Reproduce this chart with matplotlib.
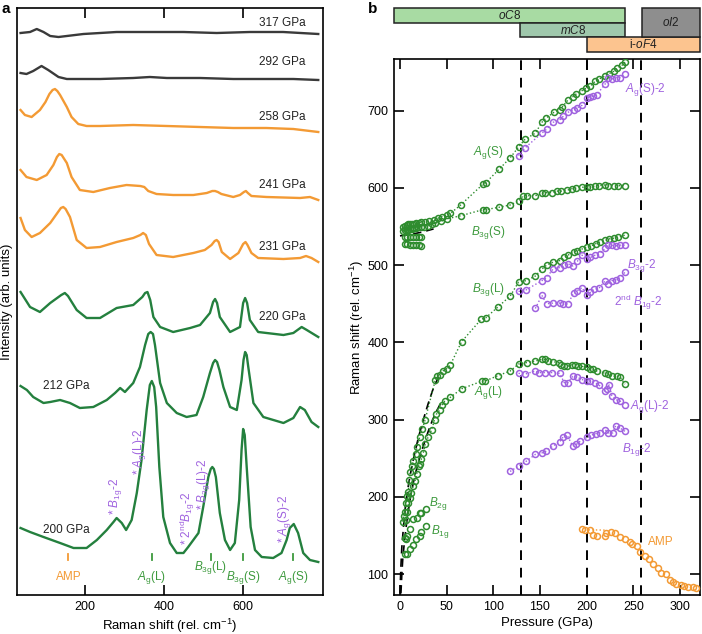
import matplotlib
matplotlib.use("Agg")
import matplotlib.pyplot as plt

plt.rcParams['font.family'] = ['Liberation Sans', 'DejaVu Sans']
plt.rcParams['mathtext.fontset'] = 'custom'
plt.rcParams['mathtext.rm'] = 'Liberation Sans'
plt.rcParams['mathtext.it'] = 'Liberation Sans:italic'
plt.rcParams['mathtext.bf'] = 'Liberation Sans:bold'
plt.rcParams['axes.linewidth'] = 1.2

# Farby
GRAY = '#3a3a3a'
ORANGE = '#f39a34'
GREEN = '#24803e'
GREEN_M = '#2e8c2e'
GREEN_T = '#3d9a3d'
PURPLE = '#9f62df'

# ---------------- panel a: Raman spektra (hodnoty uz posunute nad sebou) ----------------
x_317 = [37, 61, 78, 95, 112, 133, 196, 280, 364, 449, 533, 617, 701, 790]
y_317 = [562, 563, 566, 563, 559, 558, 561, 563, 563, 563, 562, 563, 563, 561]

x_292 = [37, 52, 69, 90, 107, 133, 154, 238, 322, 364, 407, 491, 575, 659, 727, 790]
y_292 = [522, 521, 524, 529, 525, 518, 516, 516, 517, 518, 517, 517, 516, 516, 516, 515]

x_258 = [37, 48, 65, 86, 100, 110, 118, 124, 130, 137, 154, 166, 183, 204, 238, 322, 407, 491,
         575, 659, 727, 790]
y_258 = [485, 480, 478, 485, 493, 501, 505, 506, 504, 500, 488, 478, 471, 469, 469, 470, 469, 468,
         467, 467, 466, 463]

x_241 = [37, 52, 78, 103, 120, 129, 135, 141, 154, 166, 187, 221, 263, 305, 340, 350, 360, 381, 423,
         474, 508, 522, 529, 536, 545, 575, 592, 602, 607, 612, 621, 659, 744, 769, 790]
y_241 = [425, 418, 415, 420, 430, 438, 441, 440, 432, 418, 405, 403, 407, 410, 409, 408, 404, 401,
         400, 400, 402, 404, 404, 403, 401, 398, 400, 403, 404, 402, 399, 398, 397, 398, 395]

x_231 = [37, 48, 65, 86, 112, 130, 139, 145, 151, 162, 179, 204, 238, 280, 322, 340, 347, 354, 362,
         381, 423, 474, 503, 520, 528, 533, 538, 546, 567, 588, 600, 606, 611, 621, 638, 702, 744,
         759, 773, 790]
y_231 = [377, 365, 358, 362, 372, 382, 387, 388, 386, 378, 355, 347, 348, 353, 357, 360, 362, 360,
         351, 340, 338, 342, 345, 350, 354, 355, 353, 343, 336, 342, 351, 353, 350, 342, 337, 336,
         337, 339, 337, 333]

x_220 = [37, 61, 86, 112, 140, 149, 157, 179, 204, 238, 280, 322, 345, 352, 358, 365, 373, 390, 423,
         466, 491, 516, 524, 529, 534, 541, 567, 592, 600, 605, 610, 617, 638, 702, 727, 748, 761, 790]
y_220 = [303, 288, 283, 292, 300, 302, 299, 285, 277, 277, 287, 290, 298, 302, 303, 295, 278, 268,
         263, 267, 270, 282, 293, 296, 292, 278, 263, 268, 292, 297, 292, 275, 263, 260, 262, 268,
         265, 258]

x_212 = [37, 53, 69, 95, 112, 137, 162, 187, 221, 255, 276, 289, 301, 322, 339, 352, 360, 366, 372,
         377, 390, 407, 432, 457, 482, 499, 516, 524, 529, 534, 540, 550, 567, 584, 596, 601, 605,
         609, 613, 626, 651, 702, 727, 744, 756, 773, 790]
y_212 = [209, 205, 198, 192, 193, 195, 192, 187, 188, 195, 202, 207, 203, 212, 228, 250, 261, 263,
         261, 250, 212, 192, 182, 178, 180, 198, 222, 232, 235, 233, 225, 208, 188, 185, 215, 235,
         243, 240, 228, 192, 178, 172, 177, 188, 185, 173, 168]

x_200 = [37, 61, 95, 137, 171, 204, 230, 255, 272, 280, 293, 304, 318, 331, 343, 356, 364, 369, 375,
         380, 388, 398, 415, 432, 449, 461, 474, 487, 499, 512, 518, 522, 526, 531, 541, 554, 567,
         579, 590, 596, 600, 604, 609, 619, 630, 647, 676, 697, 710, 718, 728, 739, 752, 769, 790]
y_200 = [67, 63, 58, 52, 47, 47, 55, 65, 73, 77, 72, 65, 75, 102, 135, 185, 210, 214, 208,
         188, 128, 78, 52, 42, 42, 48, 55, 62, 88, 118, 126, 128, 126, 118, 82, 55, 45,
         52, 95, 145, 166, 160, 128, 68, 45, 38, 37, 42, 55, 67, 71, 62, 42, 35, 33]

pressures_a = ['317 GPa', '292 GPa', '258 GPa', '241 GPa', '231 GPa', '220 GPa', '212 GPa', '200 GPa']
label_x_a = [700, 700, 700, 700, 700, 700, 153, 153]
label_y_a = [572, 533, 478, 410, 348, 278, 209, 65]

# oznacenie modov pod spektrom 200 GPa
mode_pos = [158, 369, 518, 599, 727]
mode_names = ['AMP', r'$A_{\rm g}$(L)', r'$B_{\rm 3g}$(L)', r'$B_{\rm 3g}$(S)', r'$A_{\rm g}$(S)']
mode_label_y = [18, 18, 28, 18, 18]

# fialove hviezdicky (druha faza)
star_x = [277, 339, 459, 499, 704]
star_y = [80, 120, 50, 85, 52]
star_names = [r'* $B_{\rm 1g}$-2', r'* $A_{\rm g}$(L)-2', r'* $2^{\rm nd}B_{\rm 1g}$-2',
              r'* $B_{\rm 3g}$(L)-2', r'* $A_{\rm g}$(S)-2']

# ---------------- panel b: frekvencie modov vs tlak ----------------
ag_s_p = [3, 5, 7, 9, 11, 13, 15, 17, 20, 23, 27, 31, 36, 41, 45, 50, 54, 65, 89, 92, 106, 118, 127,
          134, 145, 152, 156, 165, 171, 174, 180, 185, 189, 195, 199, 204, 209, 213, 220, 224, 229,
          232, 238, 241]
ag_s_r = [549, 551, 552, 553, 553, 554, 554, 555, 555, 556, 556, 557, 559, 561, 563, 565, 567, 578,
          605, 607, 624, 639, 653, 663, 671, 685, 690, 698, 701, 705, 714, 718, 722, 726, 729, 732,
          738, 741, 745, 748, 751, 755, 759, 763]

b3g_s_p = [3, 5, 7, 9, 11, 13, 15, 17, 19, 22, 26, 30, 34, 38, 44, 50, 65, 89, 92, 106, 118, 127,
           132, 136, 145, 152, 155, 163, 168, 173, 179, 184, 189, 195, 200, 204, 209, 213, 220, 223,
           229, 234, 241]
b3g_s_r = [544, 545, 546, 546, 547, 547, 548, 548, 549, 549, 550, 551, 553, 555, 557, 560, 564, 572,
           572, 575, 578, 583, 590, 590, 590, 593, 594, 594, 596, 596, 597, 599, 600, 601, 601, 601,
           603, 603, 604, 603, 603, 603, 603]

low_p = [5, 8, 11, 14, 17, 20, 23, 5, 8, 11, 14, 17, 20, 23]
low_r = [536, 536, 536, 537, 536, 536, 536, 527, 527, 526, 526, 526, 526, 525]

b3g_l_p = [3, 4, 5, 6, 7, 9, 10, 11, 13, 14, 17, 18, 21, 24, 27, 38, 40, 43, 46, 50, 54, 66, 87, 92,
           105, 118, 127, 135, 145, 152, 157, 164, 171, 176, 180, 186, 190, 195, 200, 205, 210, 214,
           220, 224, 229, 234, 241]
b3g_l_r = [168, 175, 181, 192, 201, 207, 222, 232, 240, 246, 255, 264, 277, 288, 300, 352, 357, 358,
           363, 366, 371, 401, 430, 432, 446, 460, 478, 480, 486, 495, 500, 504, 506, 510, 513, 517,
           519, 521, 523, 525, 528, 530, 532, 534, 535, 536, 539]

ag_l_p = [6, 8, 9, 11, 12, 14, 16, 18, 20, 21, 23, 25, 27, 30, 34, 37, 39, 43, 45, 48, 54, 66, 88, 91,
          105, 118, 127, 136, 145, 152, 155, 159, 164, 170, 173, 176, 179, 184, 188, 191, 195, 200,
          204, 207, 211, 220, 223, 227, 232, 236, 241]
ag_l_r = [170, 180, 192, 199, 205, 214, 220, 230, 240, 243, 249, 257, 268, 277, 287, 300, 307, 313,
          319, 324, 329, 340, 350, 350, 357, 363, 372, 374, 376, 378, 378, 376, 375, 374, 371, 369,
          369, 371, 371, 370, 369, 368, 366, 365, 363, 360, 359, 357, 356, 355, 346]

b2g_p = [5, 6, 7, 11, 14, 18, 21, 23, 28]
b2g_r = [147, 145, 149, 158, 171, 173, 179, 179, 184]
b1g_p = [5, 8, 11, 14, 17, 21, 23, 28]
b1g_r = [126, 126, 132, 138, 145, 149, 154, 162]

ag_s2_p = [127, 134, 152, 157, 164, 171, 175, 180, 186, 190, 195, 200, 204, 207, 211, 220, 223, 227,
           231, 236, 241]
ag_s2_r = [642, 652, 671, 676, 685, 688, 693, 698, 701, 704, 707, 716, 718, 719, 721, 735, 742, 741,
           743, 743, 748]

b3g2_p = [127, 135, 152, 157, 164, 171, 176, 180, 185, 190, 195, 200, 204, 209, 214, 220, 223, 227,
          231, 236, 241]
b3g2_r = [466, 468, 480, 484, 495, 497, 500, 502, 499, 505, 513, 508, 510, 513, 515, 522, 526, 526,
          525, 526, 526]

b1g2nd_p = [145, 152, 157, 164, 171, 175, 180, 186, 190, 195, 200, 204, 208, 213, 220, 223, 227, 231,
            236, 241]
b1g2nd_r = [444, 461, 450, 451, 451, 450, 450, 464, 467, 471, 461, 465, 469, 470, 480, 476, 480, 481,
            484, 491]

ag_l2_p = [127, 134, 145, 149, 155, 163, 171, 176, 180, 185, 190, 195, 200, 204, 209, 213, 220, 222,
           224, 227, 231, 236, 241]
ag_l2_r = [360, 359, 363, 361, 361, 361, 360, 348, 348, 356, 355, 352, 350, 350, 348, 345, 337, 340,
           345, 331, 326, 324, 319]

b1g2_p = [118, 127, 135, 145, 152, 156, 164, 171, 175, 179, 185, 189, 193, 200, 205, 210, 214, 220,
          223, 228, 231, 236, 241]
b1g2_r = [233, 240, 246, 255, 257, 259, 266, 271, 278, 280, 266, 268, 272, 277, 280, 282, 283, 287,
          283, 283, 292, 289, 285]

amp_p = [195, 198, 204, 207, 211, 220, 221, 226, 230, 236, 241, 246, 249, 254, 257, 263, 267, 271,
         276, 280, 285, 289, 293, 296, 301, 304, 309, 314, 317]
amp_r = [158, 157, 157, 151, 149, 149, 153, 155, 153, 148, 145, 142, 139, 136, 129, 123, 119, 113,
         108, 101, 100, 93, 90, 87, 86, 85, 83, 84, 82]
amp_fit_p = [198, 220]
amp_fit_r = [157.5, 157]

# teoreticke krivky (ciarkovane)
th1_p = [0, 1, 2, 4, 6, 9, 12, 16, 20, 25, 30, 35, 40, 44]
th1_r = [75, 110, 135, 165, 190, 215, 235, 258, 278, 300, 320, 338, 352, 362]
th2_p = [1, 2, 3, 5, 8, 12, 16, 20, 25, 30, 35, 40, 44]
th2_r = [75, 100, 120, 145, 175, 205, 228, 246, 266, 284, 300, 313, 322]
th3_p = [0, 12, 24, 36]
th3_r = [538, 540, 543, 547]

phase_boundaries = [130, 200, 258]

# fazove pasy nad grafom
phase_names = [r'$oC8$', r'$mC8$', r'i-$\mathit{oF4}$', r'$oI2$']
phase_start = [-6.4, 129, 200, 259]
phase_end = [241, 241, 321.4, 321.4]
phase_top = [0, 1, 2, 0]
phase_bottom = [1, 2, 3, 2]
phase_colors = ['#a8dba3', '#9fc8ac', '#fcc48f', '#8e8e8e']

# ============================ kreslenie ============================
fig = plt.figure(figsize=(7.02, 6.34), dpi=100)
W, H = 702.0, 634.0
ax1 = fig.add_axes([17 / W, 39 / H, 306 / W, 587 / H])
ax2 = fig.add_axes([394 / W, 39 / H, 306 / W, 536 / H])
axp = fig.add_axes([394 / W, (H - 52) / H, 306 / W, 44 / H])

# --- panel a ---
spectra = [(x_317, y_317, GRAY), (x_292, y_292, GRAY), (x_258, y_258, ORANGE),
           (x_241, y_241, ORANGE), (x_231, y_231, ORANGE), (x_220, y_220, GREEN),
           (x_212, y_212, GREEN), (x_200, y_200, GREEN)]
for xs, ys, c in spectra:
    ax1.plot(xs, ys, color=c, lw=1.7, solid_joinstyle='round')
for txt, lx, ly in zip(pressures_a, label_x_a, label_y_a):
    ax1.text(lx, ly, txt, ha='center', va='center', fontsize=8.5, color='#222222')

for i, (pos, name, ly) in enumerate(zip(mode_pos, mode_names, mode_label_y)):
    c = ORANGE if i == 0 else GREEN_T
    ax1.plot([pos, pos], [35, 41], color=c, lw=1.3)
    ax1.text(pos, ly, name, ha='center', va='center', fontsize=8.5, color=c)

for sx, sy, name in zip(star_x, star_y, star_names):
    ax1.text(sx, sy, name, rotation=90, ha='center', va='bottom', fontsize=8.5, color=PURPLE)

ax1.set_xlim(28, 802)
ax1.set_ylim(0, 587)
ax1.set_xticks([200, 400, 600])
ax1.set_yticks([])
ax1.tick_params(axis='x', direction='in', top=True, length=7, width=1.2, labelsize=9, pad=4)
ax1.set_xlabel(r'Raman shift (rel. cm$^{-1}$)', fontsize=9.5, labelpad=3)
ax1.set_ylabel('Intensity (arb. units)', fontsize=9.5, labelpad=3)

# --- panel b ---
for xv in phase_boundaries:
    ax2.axvline(xv, color='black', lw=1.4, ls=(0, (5, 4)), zorder=1)

for tp, tr in [(th1_p, th1_r), (th2_p, th2_r), (th3_p, th3_r)]:
    ax2.plot(tp, tr, color='black', lw=1.2, ls=(0, (5, 3)), zorder=2)

mk = dict(marker='o', mfc='none', ms=4.3, mew=1.1, zorder=3)
green_series = [(ag_s_p, ag_s_r), (b3g_s_p, b3g_s_r), (b3g_l_p, b3g_l_r), (ag_l_p, ag_l_r)]
for p, r in green_series:
    ax2.plot(p, r, color=GREEN_M, ls=':', lw=1.0, **mk)
for p, r in [(low_p, low_r), (b2g_p, b2g_r), (b1g_p, b1g_r)]:
    ax2.plot(p, r, color=GREEN_M, ls='none', **mk)

purple_series = [(ag_s2_p, ag_s2_r), (b3g2_p, b3g2_r), (b1g2nd_p, b1g2nd_r),
                 (ag_l2_p, ag_l2_r), (b1g2_p, b1g2_r)]
for p, r in purple_series:
    ax2.plot(p, r, color=PURPLE, ls=':', lw=1.0, **mk)

ax2.plot(amp_fit_p, amp_fit_r, color=ORANGE, ls=':', lw=1.0)
ax2.plot(amp_p, amp_r, color=ORANGE, ls='none', **mk)

labels_b = [
    (94.6, 646, r'$A_{\rm g}$(S)', GREEN_T),
    (94.6, 543, r'$B_{\rm 3g}$(S)', GREEN_T),
    (94.6, 469, r'$B_{\rm 3g}$(L)', GREEN_T),
    (94.6, 335, r'$A_{\rm g}$(L)', GREEN_T),
    (41, 192, r'$B_{\rm 2g}$', GREEN_T),
    (43, 155, r'$B_{\rm 1g}$', GREEN_T),
    (262.5, 727, r'$A_{\rm g}$(S)-2', PURPLE),
    (259, 500, r'$B_{\rm 3g}$-2', PURPLE),
    (255, 452, r'$2^{\rm nd}$ $B_{\rm 1g}$-2', PURPLE),
    (268, 317, r'$A_{\rm g}$(L)-2', PURPLE),
    (254, 261, r'$B_{\rm 1g}$-2', PURPLE),
    (279, 142, 'AMP', ORANGE),
]
for lx, ly, txt, c in labels_b:
    ax2.text(lx, ly, txt, ha='center', va='center', fontsize=8.5, color=c)

ax2.set_xlim(-6.4, 321.4)
ax2.set_ylim(73, 767)
ax2.set_xticks([0, 50, 100, 150, 200, 250, 300])
ax2.set_yticks([100, 200, 300, 400, 500, 600, 700])
ax2.tick_params(direction='in', top=True, right=True, length=7, width=1.2, labelsize=9, pad=4)
ax2.set_xlabel('Pressure (GPa)', fontsize=9.5, labelpad=3)
ax2.set_ylabel(r'Raman shift (rel. cm$^{-1}$)', fontsize=9.5, labelpad=1)

# --- fazove pasy ---
for name, x0, x1, t, b, c in zip(phase_names, phase_start, phase_end, phase_top, phase_bottom, phase_colors):
    axp.add_patch(plt.Rectangle((x0, t), x1 - x0, b - t, facecolor=c, edgecolor='#222222',
                                lw=1.1, clip_on=False))
    axp.text((x0 + x1) / 2, (t + b) / 2, name, ha='center', va='center', fontsize=8.5,
             color='#222222')
axp.set_xlim(-6.4, 321.4)
axp.set_ylim(3, 0)
axp.axis('off')

fig.text(2 / W, 1 - 9 / H, 'a', fontsize=11, fontweight='bold', va='center')
fig.text(368 / W, 1 - 9 / H, 'b', fontsize=11, fontweight='bold', va='center')

fig.savefig('out.png', dpi=100)
